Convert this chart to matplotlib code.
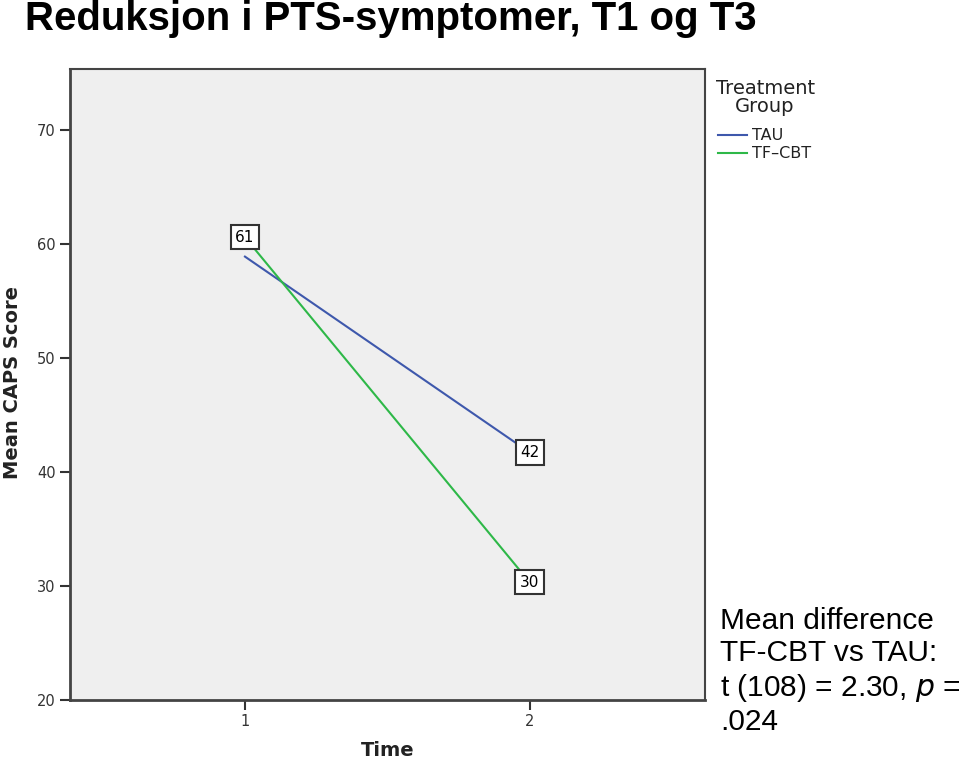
import matplotlib.pyplot as plt

# data
times = [1, 2]
tau = [58.9, 41.7]
tfcbt = [60.6, 30.3]
tau_labels = ["", "42"]
tfcbt_labels = ["61", "30"]

title = "Reduksjon i PTS-symptomer, T1 og T3"
note = "Mean difference\nTF-CBT vs TAU:\nt (108) = 2.30, $\\it{p}$ =\n.024"

fig = plt.figure(figsize=(9.6, 7.63), dpi=100)
ax = fig.add_axes([0.073, 0.083, 0.661, 0.827])
ax.set_facecolor("#efefef")

ax.plot(times, tau, color="#3e58ac", lw=1.5, zorder=2)
ax.plot(times, tfcbt, color="#2eb848", lw=1.5, zorder=2)

box = dict(boxstyle="square,pad=0.3", fc="white", ec="#333333", lw=1.5)
for x, y, s in zip(times, tfcbt, tfcbt_labels):
    ax.text(x, y, s, ha="center", va="center", fontsize=11, bbox=box, zorder=3)
for x, y, s in zip(times, tau, tau_labels):
    if s:
        ax.text(x, y, s, ha="center", va="center", fontsize=11, bbox=box, zorder=3)

ax.set_xlim(0.386, 2.614)
ax.set_ylim(20, 75.4)
ax.set_xticks(times)
ax.set_yticks([20, 30, 40, 50, 60, 70])
ax.tick_params(direction="out", length=7, width=1.5, color="#333333",
               labelsize=10.5, labelcolor="#333333")
for sp in ax.spines.values():
    sp.set_color("#444444")
    sp.set_linewidth(1.5)
ax.spines["left"].set_linewidth(2)
ax.spines["bottom"].set_linewidth(2)

ax.set_xlabel("Time", fontsize=14, fontweight="bold", color="#222222")
ax.set_ylabel("Mean CAPS Score", fontsize=14, fontweight="bold", color="#222222")
ax.xaxis.set_label_coords(0.5, -0.066)
ax.yaxis.set_label_coords(-0.076, 0.502)

# legend outside
fig.text(0.797, 0.872, "Treatment\nGroup", ha="center", va="center", fontsize=14,
         color="#222222", linespacing=0.95)
fig.add_artist(plt.Line2D([0.748, 0.778], [0.823, 0.823], color="#3e58ac", lw=1.5))
fig.add_artist(plt.Line2D([0.748, 0.778], [0.799, 0.799], color="#2eb848", lw=1.5))
fig.text(0.783, 0.823, "TAU", va="center", fontsize=11.5, color="#222222")
fig.text(0.783, 0.799, "TF\u2013CBT", va="center", fontsize=11.5, color="#222222")

fig.text(0.75, 0.12, note, ha="left", va="center", fontsize=21.5,
         family="Liberation Sans", linespacing=1.2)

fig.text(0.026, 0.9607, title, ha="left", va="baseline", fontsize=28.9,
         fontweight="bold", family="Liberation Sans")

fig.savefig("out.png", dpi=100)
